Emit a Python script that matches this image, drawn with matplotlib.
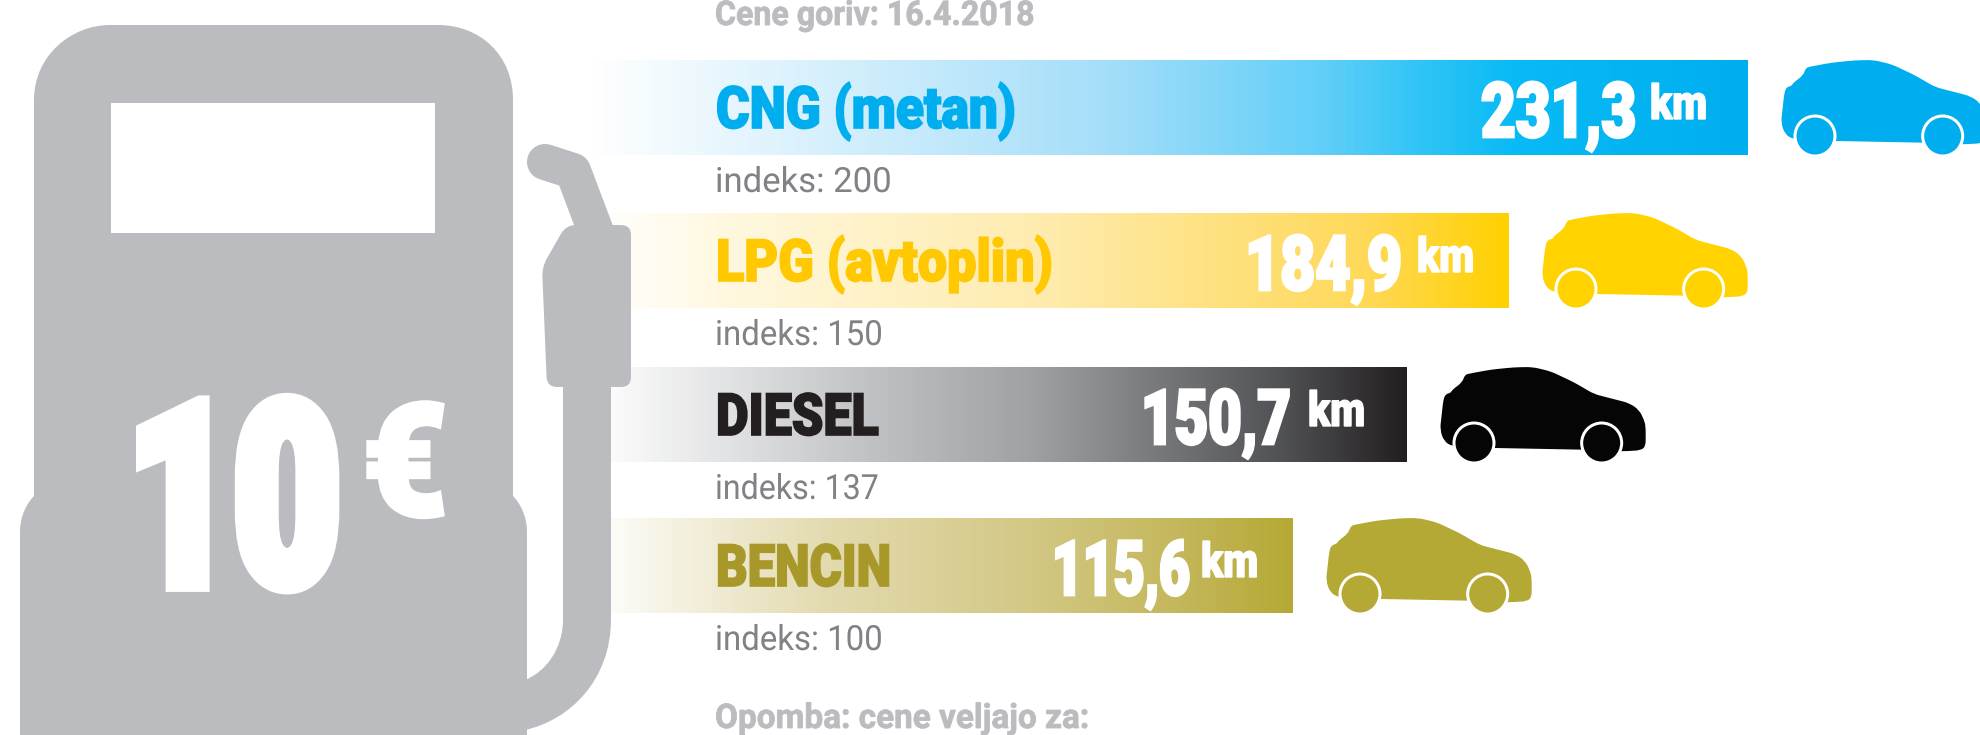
import numpy as np
import matplotlib
matplotlib.use("Agg")
import matplotlib.pyplot as plt
import matplotlib.patheffects as pe
from matplotlib.colors import LinearSegmentedColormap
from matplotlib.patches import PathPatch, Circle, Rectangle
from matplotlib.path import Path
from matplotlib.transforms import Affine2D

fuels = ["CNG (metan)", "LPG (avtoplin)", "DIESEL", "BENCIN"]
km_labels = ["231,3", "184,9", "150,7", "115,6"]
index_labels = ["indeks: 200", "indeks: 150", "indeks: 137", "indeks: 100"]
# bar ends, the bars are not proportional to km
bar_ends = [1748, 1509, 1407, 1293]

FONT = ["Roboto", "DejaVu Sans"]
GREY = "#bbbcc0"

bar_tops = [60, 213, 367, 518]
bar_height = 95
fuel_widths = [300, 337, 163, 175]
value_right = [1636, 1402, 1291, 1190]
value_widths = [155, 157, 150, 138]
km_right = [1707, 1474, 1365, 1258]
index_widths = [177, 168, 164, 168]
text_colors = ["#00aeef", "#ffc800", "#231f20", "#a8982a"]
car_colors = ["#00aeef", "#ffd200", "#050505", "#b5a935"]
stops = [
    [(0, "#ffffff"), (0.445, "#a5def9"), (0.63, "#62cff8"), (0.72, "#2fc4f6"), (0.8, "#08baf5"), (1, "#00aeef")],
    [(0, "#ffffff"), (0.15, "#fff8df"), (0.5, "#feebac"), (0.84, "#ffd95a"), (1, "#ffd100")],
    [(0, "#ffffff"), (0.16, "#e3e4e5"), (0.35, "#bfc0c3"), (0.54, "#a0a1a4"), (0.66, "#808285"),
     (0.85, "#505154"), (1, "#231f20")],
    [(0, "#ffffff"), (0.115, "#f5f2e2"), (0.33, "#e3dbb0"), (0.62, "#d3c886"), (0.84, "#c4b75b"), (1, "#b5a935")],
]

fig = plt.figure(figsize=(19.8, 7.35), dpi=100)
ax = fig.add_axes([0, 0, 1, 1])
ax.set_xlim(0, 1980)
ax.set_ylim(735, 0)
ax.axis("off")
ax.autoscale(False)
renderer = fig.canvas.get_renderer()


class Squeeze(pe.AbstractPathEffect):
    # no condensed font is installed, so narrow the glyphs around the anchor
    def __init__(self, x0, sx, lw=0):
        super().__init__()
        self.x0, self.sx, self.lw = x0, sx, lw

    def draw_path(self, renderer, gc, tpath, affine, rgbFace=None):
        t = affine + Affine2D().translate(-self.x0, 0).scale(self.sx, 1).translate(self.x0, 0)
        gc0 = renderer.new_gc()
        gc0.copy_properties(gc)
        if self.lw:
            gc0.set_linewidth(self.lw)
            gc0.set_foreground(rgbFace)
            gc0.set_joinstyle("miter")
        renderer.draw_path(gc0, tpath, t, rgbFace)
        gc0.restore()


def label(x, y, s, width, size, color, weight="bold", ha="left", lw=0, zorder=7):
    t = ax.text(x, y, s, family=FONT, fontsize=size, fontweight=weight, color=color,
                va="baseline", ha=ha, zorder=zorder)
    sx = width / t.get_window_extent(renderer).width
    t.set_path_effects([Squeeze(x, sx, lw)])
    return t


def rounded(pts, r):
    verts, codes = [], []
    n = len(pts)
    for i in range(n):
        p = np.array(pts[i], dtype=float)
        a = np.array(pts[i - 1], dtype=float)
        b = np.array(pts[(i + 1) % n], dtype=float)
        p0 = p + (a - p) * min(r / np.linalg.norm(a - p), 0.5)
        p1 = p + (b - p) * min(r / np.linalg.norm(b - p), 0.5)
        verts += [p0, p, p1]
        codes += [Path.MOVETO if i == 0 else Path.LINETO, Path.CURVE3, Path.CURVE3]
    verts.append(verts[0])
    codes.append(Path.CLOSEPOLY)
    return Path(verts, codes)


def draw_car(x, y, color):
    outline = [(425, 290), (400, 275), (388, 240), (392, 205), (398, 150), (405, 133), (420, 130), (425, 120),
               (455, 98), (462, 76), (475, 72), (540, 60), (610, 53), (665, 52), (720, 65), (790, 98), (850, 133),
               (900, 146), (955, 160), (985, 180), (1000, 210), (1005, 230), (1005, 290), (990, 302), (935, 305),
               (815, 300), (552, 295)]
    pts = [(x + (px - 388) / 3, y + (py - 52) / 3) for px, py in outline]
    ax.add_patch(PathPatch(rounded(pts, 6), fc=color, ec="none", zorder=4))
    for wx in (490, 873):
        cx = x + (wx - 388) / 3
        cy = y + (280 - 52) / 3
        ax.add_patch(Circle((cx, cy), 21.5, fc="white", ec="none", zorder=5))
        ax.add_patch(Circle((cx, cy), 18.5, fc=color, ec="none", zorder=6))


# bars with a fade from the left
for i, fuel in enumerate(fuels):
    bar = ax.barh(bar_tops[i], bar_ends[i] - 590, height=bar_height, left=590,
                  align="edge", color="none", zorder=2)[0]
    cmap = LinearSegmentedColormap.from_list(f"fade{i}", stops[i])
    grad = np.linspace(0, 1, 512).reshape(1, -1)
    im = ax.imshow(grad, cmap=cmap, aspect="auto", zorder=1,
                   extent=[590, bar_ends[i], bar_tops[i] + bar_height, bar_tops[i]])
    im.set_clip_path(bar)

    label(716, bar_tops[i] + 68, fuel, fuel_widths[i], 42, text_colors[i], weight="black", lw=1.2)
    label(km_right[i], bar_tops[i] + 59, "km", 57, 34.5, "white", weight="black", ha="right", lw=1)
    label(value_right[i], bar_tops[i] + 77, km_labels[i], value_widths[i], 55, "white", weight="black",
          ha="right", lw=2)
    label(715, bar_tops[i] + bar_height + 37, index_labels[i], index_widths[i], 25, "#808285", weight="normal")
    draw_car(bar_ends[i] + 33, bar_tops[i], car_colors[i])

label(715, 25, "Cene goriv: 16.4.2018", 319, 24.5, GREY, lw=0.6)
label(715, 728, "Opomba: cene veljajo za:", 374, 24.5, GREY, lw=0.6)

# pump body
M, L, C = Path.MOVETO, Path.LINETO, Path.CURVE4
body = [((34, 100), M), ((34, 55), C), ((72, 25), C), ((110, 25), C), ((438, 25), L),
        ((480, 25), C), ((513, 55), C), ((513, 100), C), ((513, 496), L),
        ((520, 503), C), ((527, 516), C), ((527, 532), C), ((527, 735), L), ((20, 735), L),
        ((20, 532), L), ((20, 516), C), ((27, 503), C), ((34, 496), C), ((34, 100), L)]
ax.add_patch(PathPatch(Path([p for p, _ in body], [c for _, c in body]), fc=GREY, ec="none", zorder=3))
ax.add_patch(Rectangle((111, 103), 324, 130, fc="white", ec="none", zorder=3.5))

# hose
hose = [((563, 380), M), ((611, 380), L), ((611, 619), L), ((611, 680), C), ((570, 720), C), ((525, 730), C),
        ((525, 680), L), ((545, 672), C), ((563, 650), C), ((563, 619), C), ((563, 380), L)]
ax.add_patch(PathPatch(Path([p for p, _ in hose], [c for _, c in hose]), fc=GREY, ec="none", zorder=3))

# nozzle: spout as a thick round line, handle as a rounded polygon
ax.plot([545, 573, 596], [162, 171, 232], color=GREY, lw=26, solid_capstyle="round",
        solid_joinstyle="round", zorder=3)
handle = [(566, 225), (542, 267), (547, 387), (631, 387), (631, 225)]
ax.add_patch(PathPatch(rounded(handle, 10), fc=GREY, ec="none", zorder=3))

label(340, 585, "10", 212, 185, "white", weight="black", ha="right", lw=10, zorder=5)
label(447, 515, "€", 84, 112, "white", weight="black", ha="right", lw=4, zorder=5)

fig.savefig("out.png", dpi=100)
